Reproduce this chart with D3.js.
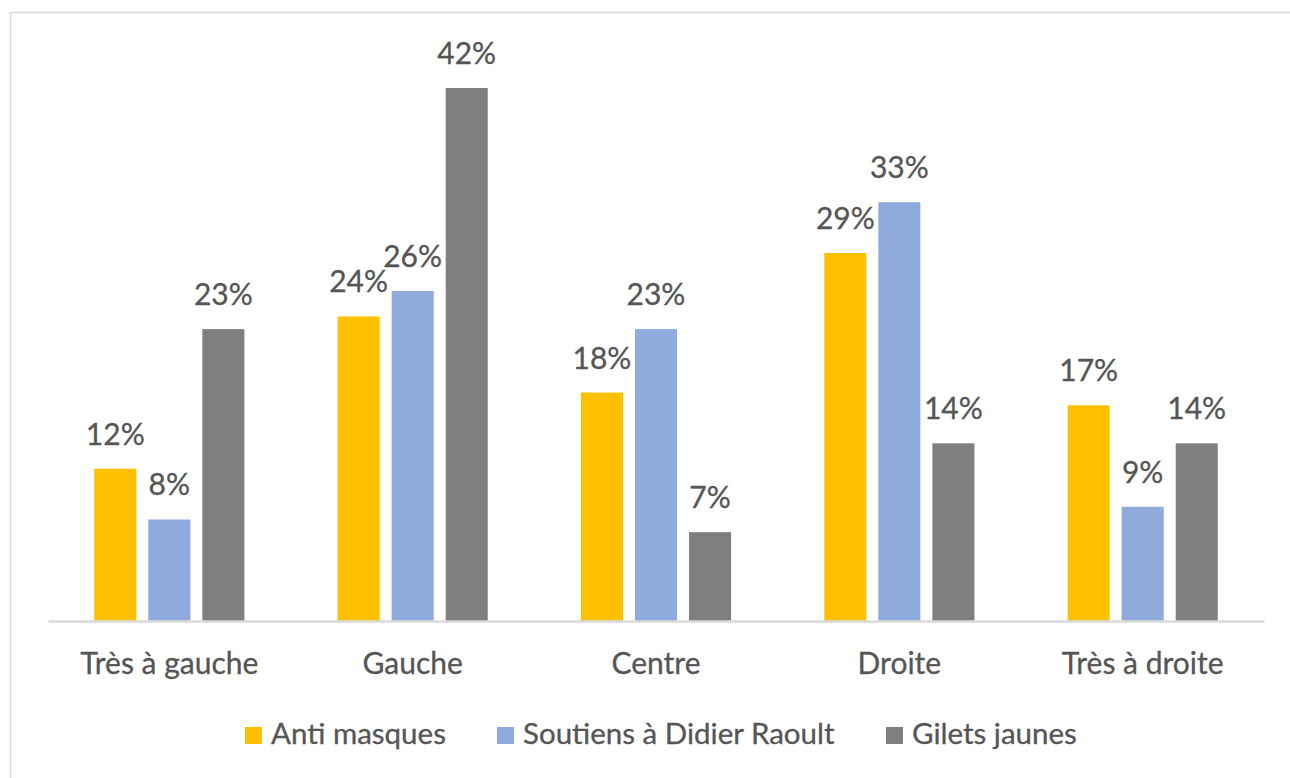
<!DOCTYPE html>
<html>
<head>
<meta charset="utf-8">
<script src="https://cdn.jsdelivr.net/npm/d3@7"></script>
<style>
  body { margin: 0; background: #fff; }
  svg text { font-family: Lato, "Open Sans", sans-serif; fill: #555555; stroke: #555555; stroke-width: 0.3px; }
</style>
</head>
<body>
<div id="chart"></div>
<script>
// categories and series
const categories = ["Très à gauche", "Gauche", "Centre", "Droite", "Très à droite"];
const seriesNames = ["Anti masques", "Soutiens à Didier Raoult", "Gilets jaunes"];
const antiMasques = [12, 24, 18, 29, 17];
const soutiensRaoult = [8, 26, 23, 33, 9];
const giletsJaunes = [23, 42, 7, 14, 14];
const colors = ["#FFC000", "#8FAADC", "#7F7F7F"];

const width = 1290;
const height = 778;

const svg = d3.select("#chart")
  .append("svg")
  .attr("width", width)
  .attr("height", height);

// outer frame (runs off right and bottom)
svg.append("rect")
  .attr("x", 10.5)
  .attr("y", 12.5)
  .attr("width", width + 10)
  .attr("height", height + 10)
  .attr("fill", "none")
  .attr("stroke", "#D9D9D9")
  .attr("stroke-width", 1.5);

const seriesValues = [antiMasques, soutiensRaoult, giletsJaunes];
const data = categories.map((c, i) => ({
  cat: c,
  values: seriesNames.map((s, j) => ({ series: s, idx: j, value: seriesValues[j][i] }))
}));

// scales
const x0 = d3.scaleBand()
  .domain(categories)
  .range([48, 1264])
  .paddingInner(0.383)
  .paddingOuter(0.19);

const x1 = d3.scaleBand()
  .domain(seriesNames)
  .range([0, x0.bandwidth()])
  .paddingInner(0.222);

const y = d3.scaleLinear()
  .domain([0, 42])
  .range([621, 88]);

// bars
const groups = svg.selectAll("g.group")
  .data(data)
  .enter().append("g")
    .attr("class", "group")
    .attr("transform", d => `translate(${x0(d.cat)},0)`);

groups.selectAll("rect")
  .data(d => d.values)
  .enter().append("rect")
    .attr("x", d => x1(d.series))
    .attr("y", d => y(d.value))
    .attr("width", x1.bandwidth())
    .attr("height", d => y(0) - y(d.value))
    .attr("fill", d => colors[d.idx]);

// value labels
groups.selectAll("text")
  .data(d => d.values)
  .enter().append("text")
    .attr("x", d => x1(d.series) + x1.bandwidth() / 2)
    .attr("y", d => y(d.value) - 24)
    .attr("text-anchor", "middle")
    .style("font-size", "30px")
    .text(d => d.value + "%");

// x axis
const xAxis = svg.append("g")
  .attr("transform", `translate(0, ${y(0)})`)
  .call(d3.axisBottom(x0).tickSize(0).tickPadding(0));
xAxis.select(".domain")
  .attr("stroke", "#D9D9D9")
  .attr("stroke-width", 2.5);
xAxis.selectAll(".tick text")
  .attr("dy", 0)
  .attr("y", 53)
  .style("font-size", "30px")
  .style("fill", "#555555");

// legend
const legendX = [245, 497, 886];
const legend = svg.selectAll("g.legend")
  .data(seriesNames)
  .enter().append("g")
    .attr("class", "legend")
    .attr("transform", (d, i) => `translate(${legendX[i]}, 727)`);

legend.append("rect")
  .attr("width", 17)
  .attr("height", 17)
  .attr("fill", (d, i) => colors[i]);

legend.append("text")
  .attr("x", 26)
  .attr("y", 17)
  .style("font-size", "29.5px")
  .text(d => d);
</script>
</body>
</html>
